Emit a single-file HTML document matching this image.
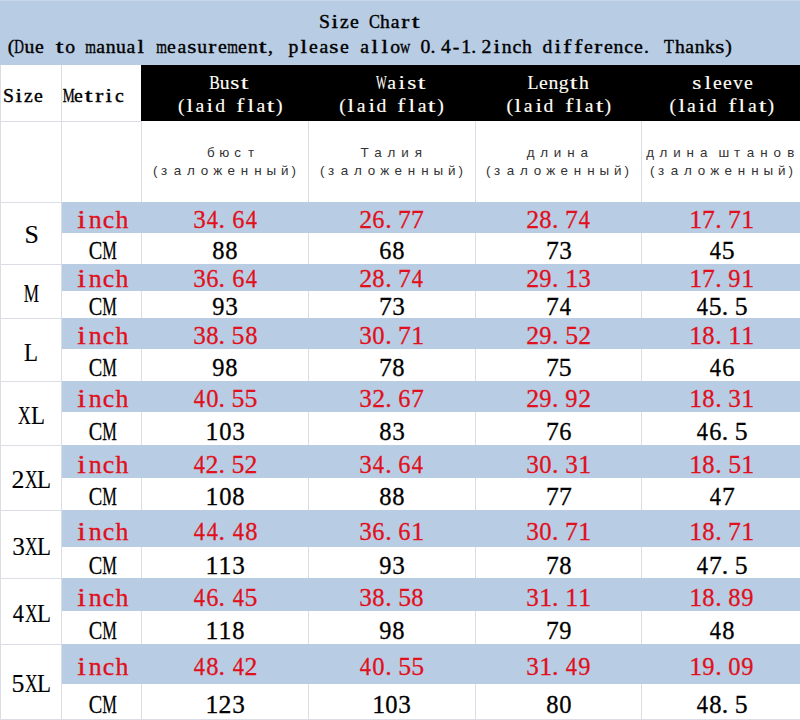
<!DOCTYPE html>
<html><head><meta charset="utf-8"><title>Size Chart</title>
<style>
html,body{margin:0;padding:0;background:#fff}
body{width:800px;height:720px;overflow:hidden;position:relative}
.r{position:absolute}
.t{position:absolute;white-space:nowrap;line-height:1}
.t i{display:inline-block;font-style:normal;text-align:center;line-height:1;vertical-align:baseline}
.t b{display:inline-block;font-weight:normal;text-align:center}
</style></head><body>
<div class="r" style="left:0px;top:0px;width:800px;height:65px;background:#b8cce4"></div>
<div class="r" style="left:0px;top:0px;width:800px;height:1px;background:#c8d8ea"></div>
<div class="r" style="left:141px;top:65px;width:659px;height:56px;background:#000"></div>
<div class="r" style="left:0px;top:65px;width:1px;height:655px;background:#dadce6"></div>
<div class="r" style="left:61px;top:65px;width:1px;height:655px;background:#dadce6"></div>
<div class="r" style="left:0px;top:121px;width:141px;height:1px;background:#dadce6"></div>
<div class="r" style="left:141px;top:121px;width:1px;height:81px;background:#dadce6"></div>
<div class="r" style="left:308px;top:121px;width:1px;height:81px;background:#dadce6"></div>
<div class="r" style="left:475px;top:121px;width:1px;height:81px;background:#dadce6"></div>
<div class="r" style="left:641px;top:121px;width:1px;height:81px;background:#dadce6"></div>
<div class="r" style="left:0px;top:202px;width:800px;height:1px;background:#dadce6"></div>
<div class="r" style="left:141px;top:233px;width:1px;height:31px;background:#dadce6"></div>
<div class="r" style="left:308px;top:233px;width:1px;height:31px;background:#dadce6"></div>
<div class="r" style="left:475px;top:233px;width:1px;height:31px;background:#dadce6"></div>
<div class="r" style="left:641px;top:233px;width:1px;height:31px;background:#dadce6"></div>
<div class="r" style="left:0px;top:264px;width:62px;height:1px;background:#dadce6"></div>
<div class="r" style="left:141px;top:291px;width:1px;height:27px;background:#dadce6"></div>
<div class="r" style="left:308px;top:291px;width:1px;height:27px;background:#dadce6"></div>
<div class="r" style="left:475px;top:291px;width:1px;height:27px;background:#dadce6"></div>
<div class="r" style="left:641px;top:291px;width:1px;height:27px;background:#dadce6"></div>
<div class="r" style="left:0px;top:318px;width:62px;height:1px;background:#dadce6"></div>
<div class="r" style="left:141px;top:349px;width:1px;height:32px;background:#dadce6"></div>
<div class="r" style="left:308px;top:349px;width:1px;height:32px;background:#dadce6"></div>
<div class="r" style="left:475px;top:349px;width:1px;height:32px;background:#dadce6"></div>
<div class="r" style="left:641px;top:349px;width:1px;height:32px;background:#dadce6"></div>
<div class="r" style="left:0px;top:381px;width:62px;height:1px;background:#dadce6"></div>
<div class="r" style="left:141px;top:412px;width:1px;height:33px;background:#dadce6"></div>
<div class="r" style="left:308px;top:412px;width:1px;height:33px;background:#dadce6"></div>
<div class="r" style="left:475px;top:412px;width:1px;height:33px;background:#dadce6"></div>
<div class="r" style="left:641px;top:412px;width:1px;height:33px;background:#dadce6"></div>
<div class="r" style="left:0px;top:445px;width:62px;height:1px;background:#dadce6"></div>
<div class="r" style="left:141px;top:478px;width:1px;height:32px;background:#dadce6"></div>
<div class="r" style="left:308px;top:478px;width:1px;height:32px;background:#dadce6"></div>
<div class="r" style="left:475px;top:478px;width:1px;height:32px;background:#dadce6"></div>
<div class="r" style="left:641px;top:478px;width:1px;height:32px;background:#dadce6"></div>
<div class="r" style="left:0px;top:510px;width:62px;height:1px;background:#dadce6"></div>
<div class="r" style="left:141px;top:547px;width:1px;height:31px;background:#dadce6"></div>
<div class="r" style="left:308px;top:547px;width:1px;height:31px;background:#dadce6"></div>
<div class="r" style="left:475px;top:547px;width:1px;height:31px;background:#dadce6"></div>
<div class="r" style="left:641px;top:547px;width:1px;height:31px;background:#dadce6"></div>
<div class="r" style="left:0px;top:578px;width:62px;height:1px;background:#dadce6"></div>
<div class="r" style="left:141px;top:611px;width:1px;height:33px;background:#dadce6"></div>
<div class="r" style="left:308px;top:611px;width:1px;height:33px;background:#dadce6"></div>
<div class="r" style="left:475px;top:611px;width:1px;height:33px;background:#dadce6"></div>
<div class="r" style="left:641px;top:611px;width:1px;height:33px;background:#dadce6"></div>
<div class="r" style="left:0px;top:644px;width:62px;height:1px;background:#dadce6"></div>
<div class="r" style="left:141px;top:684px;width:1px;height:35px;background:#dadce6"></div>
<div class="r" style="left:308px;top:684px;width:1px;height:35px;background:#dadce6"></div>
<div class="r" style="left:475px;top:684px;width:1px;height:35px;background:#dadce6"></div>
<div class="r" style="left:641px;top:684px;width:1px;height:35px;background:#dadce6"></div>
<div class="r" style="left:0px;top:719px;width:800px;height:1px;background:#dadce6"></div>
<div class="r" style="left:62px;top:202px;width:738px;height:31px;background:#b8cce4"></div>
<div class="r" style="left:62px;top:264px;width:738px;height:27px;background:#b8cce4"></div>
<div class="r" style="left:62px;top:318px;width:738px;height:31px;background:#b8cce4"></div>
<div class="r" style="left:62px;top:381px;width:738px;height:31px;background:#b8cce4"></div>
<div class="r" style="left:62px;top:445px;width:738px;height:33px;background:#b8cce4"></div>
<div class="r" style="left:62px;top:510px;width:738px;height:37px;background:#b8cce4"></div>
<div class="r" style="left:62px;top:578px;width:738px;height:33px;background:#b8cce4"></div>
<div class="r" style="left:62px;top:644px;width:738px;height:40px;background:#b8cce4"></div>
<div class="t" style="left:319.00px;top:11.65px;font-size:19.7px;font-family:'Liberation Serif',serif;color:#000;-webkit-text-stroke:0.4px #000;"><i style="width:10.16px;">S</i><i style="width:10.16px"><b style="width:5.47px;margin:0 2.34px;transform:scaleX(1.193)">i</b></i><i style="width:10.16px;">z</i><i style="width:10.16px"><b style="width:8.74px;margin:0 0.71px;transform:scaleX(1.003)">e</b></i><i style="width:10.16px;">&nbsp;</i><i style="width:10.16px"><b style="width:13.14px;margin:0 -1.49px;transform:scaleX(0.831)">C</b></i><i style="width:10.16px"><b style="width:9.85px;margin:0 0.16px;transform:scaleX(0.995)">h</b></i><i style="width:10.16px;">a</i><i style="width:10.16px"><b style="width:6.56px;margin:0 1.80px;transform:scaleX(1.221)">r</b></i><i style="width:10.16px"><b style="width:5.47px;margin:0 2.34px;transform:scaleX(1.416)">t</b></i></div>
<div class="t" style="left:4.04px;top:36.65px;font-size:19.7px;font-family:'Liberation Serif',serif;color:#000;-webkit-text-stroke:0.4px #000;"><i style="width:10.16px;text-align:right;">(</i><i style="width:10.16px"><b style="width:14.23px;margin:0 -2.03px;transform:scaleX(0.679)">D</b></i><i style="width:10.16px;">u</i><i style="width:10.16px"><b style="width:8.74px;margin:0 0.71px;transform:scaleX(1.003)">e</b></i><i style="width:10.16px;">&nbsp;</i><i style="width:10.16px"><b style="width:5.47px;margin:0 2.34px;transform:scaleX(1.416)">t</b></i><i style="width:10.16px;">o</i><i style="width:10.16px;">&nbsp;</i><i style="width:10.16px"><b style="width:15.32px;margin:0 -2.58px;transform:scaleX(0.696)">m</b></i><i style="width:10.16px;">a</i><i style="width:10.16px;">n</i><i style="width:10.16px;">u</i><i style="width:10.16px;">a</i><i style="width:10.16px"><b style="width:5.47px;margin:0 2.34px;transform:scaleX(1.193)">l</b></i><i style="width:10.16px;">&nbsp;</i><i style="width:10.16px"><b style="width:15.32px;margin:0 -2.58px;transform:scaleX(0.696)">m</b></i><i style="width:10.16px"><b style="width:8.74px;margin:0 0.71px;transform:scaleX(1.003)">e</b></i><i style="width:10.16px;">a</i><i style="width:10.16px"><b style="width:7.67px;margin:0 1.25px;transform:scaleX(1.190)">s</b></i><i style="width:10.16px;">u</i><i style="width:10.16px"><b style="width:6.56px;margin:0 1.80px;transform:scaleX(1.221)">r</b></i><i style="width:10.16px"><b style="width:8.74px;margin:0 0.71px;transform:scaleX(1.003)">e</b></i><i style="width:10.16px"><b style="width:15.32px;margin:0 -2.58px;transform:scaleX(0.696)">m</b></i><i style="width:10.16px"><b style="width:8.74px;margin:0 0.71px;transform:scaleX(1.003)">e</b></i><i style="width:10.16px;">n</i><i style="width:10.16px"><b style="width:5.47px;margin:0 2.34px;transform:scaleX(1.416)">t</b></i><i style="width:10.16px;text-align:left;">,</i><i style="width:10.16px;">&nbsp;</i><i style="width:10.16px;">p</i><i style="width:10.16px"><b style="width:5.47px;margin:0 2.34px;transform:scaleX(1.193)">l</b></i><i style="width:10.16px"><b style="width:8.74px;margin:0 0.71px;transform:scaleX(1.003)">e</b></i><i style="width:10.16px;">a</i><i style="width:10.16px"><b style="width:7.67px;margin:0 1.25px;transform:scaleX(1.190)">s</b></i><i style="width:10.16px"><b style="width:8.74px;margin:0 0.71px;transform:scaleX(1.003)">e</b></i><i style="width:10.16px;">&nbsp;</i><i style="width:10.16px;">a</i><i style="width:10.16px"><b style="width:5.47px;margin:0 2.34px;transform:scaleX(1.193)">l</b></i><i style="width:10.16px"><b style="width:5.47px;margin:0 2.34px;transform:scaleX(1.193)">l</b></i><i style="width:10.16px;">o</i><i style="width:10.16px"><b style="width:14.23px;margin:0 -2.03px;transform:scaleX(0.720)">w</b></i><i style="width:10.16px;">&nbsp;</i><i style="width:10.16px;">0</i><i style="width:10.16px;text-align:left;">.</i><i style="width:10.16px;">4</i><i style="width:10.16px;">-</i><i style="width:10.16px;">1</i><i style="width:10.16px;text-align:left;">.</i><i style="width:10.16px;">2</i><i style="width:10.16px"><b style="width:5.47px;margin:0 2.34px;transform:scaleX(1.193)">i</b></i><i style="width:10.16px;">n</i><i style="width:10.16px;">c</i><i style="width:10.16px"><b style="width:9.85px;margin:0 0.16px;transform:scaleX(0.995)">h</b></i><i style="width:10.16px;">&nbsp;</i><i style="width:10.16px;">d</i><i style="width:10.16px"><b style="width:5.47px;margin:0 2.34px;transform:scaleX(1.193)">i</b></i><i style="width:10.16px"><b style="width:6.56px;margin:0 1.80px;transform:scaleX(1.229)">f</b></i><i style="width:10.16px"><b style="width:6.56px;margin:0 1.80px;transform:scaleX(1.229)">f</b></i><i style="width:10.16px"><b style="width:8.74px;margin:0 0.71px;transform:scaleX(1.003)">e</b></i><i style="width:10.16px"><b style="width:6.56px;margin:0 1.80px;transform:scaleX(1.221)">r</b></i><i style="width:10.16px"><b style="width:8.74px;margin:0 0.71px;transform:scaleX(1.003)">e</b></i><i style="width:10.16px;">n</i><i style="width:10.16px;">c</i><i style="width:10.16px"><b style="width:8.74px;margin:0 0.71px;transform:scaleX(1.003)">e</b></i><i style="width:10.16px;text-align:left;">.</i><i style="width:10.16px;">&nbsp;</i><i style="width:10.16px"><b style="width:12.03px;margin:0 -0.94px;transform:scaleX(0.823)">T</b></i><i style="width:10.16px"><b style="width:9.85px;margin:0 0.16px;transform:scaleX(0.995)">h</b></i><i style="width:10.16px;">a</i><i style="width:10.16px;">n</i><i style="width:10.16px"><b style="width:9.85px;margin:0 0.16px;transform:scaleX(0.987)">k</b></i><i style="width:10.16px"><b style="width:7.67px;margin:0 1.25px;transform:scaleX(1.190)">s</b></i><i style="width:10.16px;text-align:left;">)</i></div>
<div class="t" style="left:3.00px;top:85.55px;font-size:19.7px;font-family:'Liberation Serif',serif;color:#000;-webkit-text-stroke:0.4px #000;"><i style="width:10.16px;">S</i><i style="width:10.16px"><b style="width:5.47px;margin:0 2.34px;transform:scaleX(1.193)">i</b></i><i style="width:10.16px;">z</i><i style="width:10.16px"><b style="width:8.74px;margin:0 0.71px;transform:scaleX(1.003)">e</b></i></div>
<div class="t" style="left:63.50px;top:85.55px;font-size:19.7px;font-family:'Liberation Serif',serif;color:#000;-webkit-text-stroke:0.4px #000;"><i style="width:10.16px"><b style="width:17.52px;margin:0 -3.68px;transform:scaleX(0.683)">M</b></i><i style="width:10.16px"><b style="width:8.74px;margin:0 0.71px;transform:scaleX(1.003)">e</b></i><i style="width:10.16px"><b style="width:5.47px;margin:0 2.34px;transform:scaleX(1.416)">t</b></i><i style="width:10.16px"><b style="width:6.56px;margin:0 1.80px;transform:scaleX(1.221)">r</b></i><i style="width:10.16px"><b style="width:5.47px;margin:0 2.34px;transform:scaleX(1.193)">i</b></i><i style="width:10.16px;">c</i></div>
<div class="t" style="left:209.48px;top:72.85px;font-size:19.7px;font-family:'Liberation Serif',serif;color:#fffdf5;-webkit-text-stroke:0.15px #fffdf5;"><i style="width:10.16px"><b style="width:13.14px;margin:0 -1.49px;transform:scaleX(0.805)">B</b></i><i style="width:10.16px;">u</i><i style="width:10.16px"><b style="width:7.67px;margin:0 1.25px;transform:scaleX(1.190)">s</b></i><i style="width:10.16px"><b style="width:5.47px;margin:0 2.34px;transform:scaleX(1.416)">t</b></i></div>
<div class="t" style="left:174.52px;top:95.65px;font-size:19.7px;font-family:'Liberation Serif',serif;color:#fffdf5;-webkit-text-stroke:0.15px #fffdf5;"><i style="width:10.16px;text-align:right;">(</i><i style="width:10.16px"><b style="width:5.47px;margin:0 2.34px;transform:scaleX(1.193)">l</b></i><i style="width:10.16px;">a</i><i style="width:10.16px"><b style="width:5.47px;margin:0 2.34px;transform:scaleX(1.193)">i</b></i><i style="width:10.16px;">d</i><i style="width:10.16px;">&nbsp;</i><i style="width:10.16px"><b style="width:6.56px;margin:0 1.80px;transform:scaleX(1.229)">f</b></i><i style="width:10.16px"><b style="width:5.47px;margin:0 2.34px;transform:scaleX(1.193)">l</b></i><i style="width:10.16px;">a</i><i style="width:10.16px"><b style="width:5.47px;margin:0 2.34px;transform:scaleX(1.416)">t</b></i><i style="width:10.16px;text-align:left;">)</i></div>
<div class="t" style="left:376.50px;top:72.85px;font-size:19.7px;font-family:'Liberation Serif',serif;color:#fffdf5;-webkit-text-stroke:0.15px #fffdf5;"><i style="width:10.16px"><b style="width:18.59px;margin:0 -4.22px;transform:scaleX(0.576)">W</b></i><i style="width:10.16px;">a</i><i style="width:10.16px"><b style="width:5.47px;margin:0 2.34px;transform:scaleX(1.193)">i</b></i><i style="width:10.16px"><b style="width:7.67px;margin:0 1.25px;transform:scaleX(1.190)">s</b></i><i style="width:10.16px"><b style="width:5.47px;margin:0 2.34px;transform:scaleX(1.416)">t</b></i></div>
<div class="t" style="left:335.72px;top:95.65px;font-size:19.7px;font-family:'Liberation Serif',serif;color:#fffdf5;-webkit-text-stroke:0.15px #fffdf5;"><i style="width:10.16px;text-align:right;">(</i><i style="width:10.16px"><b style="width:5.47px;margin:0 2.34px;transform:scaleX(1.193)">l</b></i><i style="width:10.16px;">a</i><i style="width:10.16px"><b style="width:5.47px;margin:0 2.34px;transform:scaleX(1.193)">i</b></i><i style="width:10.16px;">d</i><i style="width:10.16px;">&nbsp;</i><i style="width:10.16px"><b style="width:6.56px;margin:0 1.80px;transform:scaleX(1.229)">f</b></i><i style="width:10.16px"><b style="width:5.47px;margin:0 2.34px;transform:scaleX(1.193)">l</b></i><i style="width:10.16px;">a</i><i style="width:10.16px"><b style="width:5.47px;margin:0 2.34px;transform:scaleX(1.416)">t</b></i><i style="width:10.16px;text-align:left;">)</i></div>
<div class="t" style="left:528.02px;top:72.85px;font-size:19.7px;font-family:'Liberation Serif',serif;color:#fffdf5;-webkit-text-stroke:0.15px #fffdf5;"><i style="width:10.16px"><b style="width:12.03px;margin:0 -0.94px;transform:scaleX(0.909)">L</b></i><i style="width:10.16px"><b style="width:8.74px;margin:0 0.71px;transform:scaleX(1.003)">e</b></i><i style="width:10.16px;">n</i><i style="width:10.16px;">g</i><i style="width:10.16px"><b style="width:5.47px;margin:0 2.34px;transform:scaleX(1.416)">t</b></i><i style="width:10.16px"><b style="width:9.85px;margin:0 0.16px;transform:scaleX(0.995)">h</b></i></div>
<div class="t" style="left:502.82px;top:95.65px;font-size:19.7px;font-family:'Liberation Serif',serif;color:#fffdf5;-webkit-text-stroke:0.15px #fffdf5;"><i style="width:10.16px;text-align:right;">(</i><i style="width:10.16px"><b style="width:5.47px;margin:0 2.34px;transform:scaleX(1.193)">l</b></i><i style="width:10.16px;">a</i><i style="width:10.16px"><b style="width:5.47px;margin:0 2.34px;transform:scaleX(1.193)">i</b></i><i style="width:10.16px;">d</i><i style="width:10.16px;">&nbsp;</i><i style="width:10.16px"><b style="width:6.56px;margin:0 1.80px;transform:scaleX(1.229)">f</b></i><i style="width:10.16px"><b style="width:5.47px;margin:0 2.34px;transform:scaleX(1.193)">l</b></i><i style="width:10.16px;">a</i><i style="width:10.16px"><b style="width:5.47px;margin:0 2.34px;transform:scaleX(1.416)">t</b></i><i style="width:10.16px;text-align:left;">)</i></div>
<div class="t" style="left:692.02px;top:72.85px;font-size:19.7px;font-family:'Liberation Serif',serif;color:#fffdf5;-webkit-text-stroke:0.15px #fffdf5;"><i style="width:10.16px"><b style="width:7.67px;margin:0 1.25px;transform:scaleX(1.190)">s</b></i><i style="width:10.16px"><b style="width:5.47px;margin:0 2.34px;transform:scaleX(1.193)">l</b></i><i style="width:10.16px"><b style="width:8.74px;margin:0 0.71px;transform:scaleX(1.003)">e</b></i><i style="width:10.16px"><b style="width:8.74px;margin:0 0.71px;transform:scaleX(1.003)">e</b></i><i style="width:10.16px"><b style="width:9.85px;margin:0 0.16px;transform:scaleX(0.949)">v</b></i><i style="width:10.16px"><b style="width:8.74px;margin:0 0.71px;transform:scaleX(1.003)">e</b></i></div>
<div class="t" style="left:666.02px;top:95.65px;font-size:19.7px;font-family:'Liberation Serif',serif;color:#fffdf5;-webkit-text-stroke:0.15px #fffdf5;"><i style="width:10.16px;text-align:right;">(</i><i style="width:10.16px"><b style="width:5.47px;margin:0 2.34px;transform:scaleX(1.193)">l</b></i><i style="width:10.16px;">a</i><i style="width:10.16px"><b style="width:5.47px;margin:0 2.34px;transform:scaleX(1.193)">i</b></i><i style="width:10.16px;">d</i><i style="width:10.16px;">&nbsp;</i><i style="width:10.16px"><b style="width:6.56px;margin:0 1.80px;transform:scaleX(1.229)">f</b></i><i style="width:10.16px"><b style="width:5.47px;margin:0 2.34px;transform:scaleX(1.193)">l</b></i><i style="width:10.16px;">a</i><i style="width:10.16px"><b style="width:5.47px;margin:0 2.34px;transform:scaleX(1.416)">t</b></i><i style="width:10.16px;text-align:left;">)</i></div>
<div class="t" style="left:204.20px;top:145.81px;font-size:13.4px;font-family:'Liberation Sans',sans-serif;color:#333;-webkit-text-stroke:0px #333;"><i style="width:13.4px;">б</i><i style="width:13.4px;">ю</i><i style="width:13.4px;">с</i><i style="width:13.4px;">т</i></div>
<div class="t" style="left:150.80px;top:163.91px;font-size:13.4px;font-family:'Liberation Sans',sans-serif;color:#333;-webkit-text-stroke:0px #333;"><i style="width:6.7px;text-align:right;">(</i><i style="width:13.4px;">з</i><i style="width:13.4px;">а</i><i style="width:13.4px;">л</i><i style="width:13.4px;">о</i><i style="width:13.4px;">ж</i><i style="width:13.4px;">е</i><i style="width:13.4px;">н</i><i style="width:13.4px;">н</i><i style="width:13.4px;">ы</i><i style="width:13.4px;">й</i><i style="width:6.7px;text-align:left;">)</i></div>
<div class="t" style="left:358.00px;top:145.81px;font-size:13.4px;font-family:'Liberation Sans',sans-serif;color:#333;-webkit-text-stroke:0px #333;"><i style="width:13.4px;">Т</i><i style="width:13.4px;">а</i><i style="width:13.4px;">л</i><i style="width:13.4px;">и</i><i style="width:13.4px;">я</i></div>
<div class="t" style="left:317.80px;top:163.91px;font-size:13.4px;font-family:'Liberation Sans',sans-serif;color:#333;-webkit-text-stroke:0px #333;"><i style="width:6.7px;text-align:right;">(</i><i style="width:13.4px;">з</i><i style="width:13.4px;">а</i><i style="width:13.4px;">л</i><i style="width:13.4px;">о</i><i style="width:13.4px;">ж</i><i style="width:13.4px;">е</i><i style="width:13.4px;">н</i><i style="width:13.4px;">н</i><i style="width:13.4px;">ы</i><i style="width:13.4px;">й</i><i style="width:6.7px;text-align:left;">)</i></div>
<div class="t" style="left:524.00px;top:145.81px;font-size:13.4px;font-family:'Liberation Sans',sans-serif;color:#333;-webkit-text-stroke:0px #333;"><i style="width:13.4px;">д</i><i style="width:13.4px;">л</i><i style="width:13.4px;">и</i><i style="width:13.4px;">н</i><i style="width:13.4px;">а</i></div>
<div class="t" style="left:483.80px;top:163.91px;font-size:13.4px;font-family:'Liberation Sans',sans-serif;color:#333;-webkit-text-stroke:0px #333;"><i style="width:6.7px;text-align:right;">(</i><i style="width:13.4px;">з</i><i style="width:13.4px;">а</i><i style="width:13.4px;">л</i><i style="width:13.4px;">о</i><i style="width:13.4px;">ж</i><i style="width:13.4px;">е</i><i style="width:13.4px;">н</i><i style="width:13.4px;">н</i><i style="width:13.4px;">ы</i><i style="width:13.4px;">й</i><i style="width:6.7px;text-align:left;">)</i></div>
<div class="t" style="left:643.45px;top:145.81px;font-size:13.4px;font-family:'Liberation Sans',sans-serif;color:#333;-webkit-text-stroke:0px #333;"><i style="width:13.4px;">д</i><i style="width:13.4px;">л</i><i style="width:13.4px;">и</i><i style="width:13.4px;">н</i><i style="width:13.4px;">а</i><i style="width:6.7px;">&nbsp;</i><i style="width:13.4px;">ш</i><i style="width:13.4px;">т</i><i style="width:13.4px;">а</i><i style="width:13.4px;">н</i><i style="width:13.4px;">о</i><i style="width:13.4px;">в</i></div>
<div class="t" style="left:647.80px;top:163.91px;font-size:13.4px;font-family:'Liberation Sans',sans-serif;color:#333;-webkit-text-stroke:0px #333;"><i style="width:6.7px;text-align:right;">(</i><i style="width:13.4px;">з</i><i style="width:13.4px;">а</i><i style="width:13.4px;">л</i><i style="width:13.4px;">о</i><i style="width:13.4px;">ж</i><i style="width:13.4px;">е</i><i style="width:13.4px;">н</i><i style="width:13.4px;">н</i><i style="width:13.4px;">ы</i><i style="width:13.4px;">й</i><i style="width:6.7px;text-align:left;">)</i></div>
<div class="t" style="left:24.50px;top:222.39px;font-size:25.8px;font-family:'Liberation Serif',serif;color:#000;-webkit-text-stroke:0.15px #000;"><i style="width:13px;">S</i></div>
<div class="t" style="left:75.00px;top:207.39px;font-size:25.8px;font-family:'Liberation Serif',serif;color:#e0101c;-webkit-text-stroke:0.35px #e0101c;"><i style="width:13.4px"><b style="width:7.17px;margin:0 3.12px;transform:scaleX(1.201)">i</b></i><i style="width:13.4px;">n</i><i style="width:13.4px;">c</i><i style="width:13.4px;">h</i></div>
<div class="t" style="left:88.60px;top:237.79px;font-size:25.8px;font-family:'Liberation Serif',serif;color:#000;-webkit-text-stroke:0.3px #000;"><i style="width:13.6px"><b style="width:17.21px;margin:0 -1.80px;transform:scaleX(0.785)">C</b></i><i style="width:13.6px"><b style="width:22.94px;margin:0 -4.67px;transform:scaleX(0.634)">M</b></i></div>
<div class="t" style="left:192.50px;top:207.39px;font-size:25.8px;font-family:'Liberation Serif',serif;color:#e0101c;-webkit-text-stroke:0.3px #e0101c;"><i style="width:13px"><b style="width:12.90px;margin:0 0.05px;transform:scaleX(0.976)">3</b></i><i style="width:13px"><b style="width:12.90px;margin:0 0.05px;transform:scaleX(0.867)">4</b></i><i style="width:13px;text-align:left;">.</i><i style="width:13px"><b style="width:12.90px;margin:0 0.05px;transform:scaleX(0.943)">6</b></i><i style="width:13px"><b style="width:12.90px;margin:0 0.05px;transform:scaleX(0.867)">4</b></i></div>
<div class="t" style="left:212.00px;top:237.79px;font-size:25.8px;font-family:'Liberation Serif',serif;color:#000;-webkit-text-stroke:0.3px #000;"><i style="width:13px"><b style="width:12.90px;margin:0 0.05px;transform:scaleX(0.951)">8</b></i><i style="width:13px"><b style="width:12.90px;margin:0 0.05px;transform:scaleX(0.951)">8</b></i></div>
<div class="t" style="left:359.20px;top:207.39px;font-size:25.8px;font-family:'Liberation Serif',serif;color:#e0101c;-webkit-text-stroke:0.3px #e0101c;"><i style="width:13px;">2</i><i style="width:13px"><b style="width:12.90px;margin:0 0.05px;transform:scaleX(0.943)">6</b></i><i style="width:13px;text-align:left;">.</i><i style="width:13px"><b style="width:12.90px;margin:0 0.05px;transform:scaleX(0.995)">7</b></i><i style="width:13px"><b style="width:12.90px;margin:0 0.05px;transform:scaleX(0.995)">7</b></i></div>
<div class="t" style="left:378.70px;top:237.79px;font-size:25.8px;font-family:'Liberation Serif',serif;color:#000;-webkit-text-stroke:0.3px #000;"><i style="width:13px"><b style="width:12.90px;margin:0 0.05px;transform:scaleX(0.943)">6</b></i><i style="width:13px"><b style="width:12.90px;margin:0 0.05px;transform:scaleX(0.951)">8</b></i></div>
<div class="t" style="left:526.10px;top:207.39px;font-size:25.8px;font-family:'Liberation Serif',serif;color:#e0101c;-webkit-text-stroke:0.3px #e0101c;"><i style="width:13px;">2</i><i style="width:13px"><b style="width:12.90px;margin:0 0.05px;transform:scaleX(0.951)">8</b></i><i style="width:13px;text-align:left;">.</i><i style="width:13px"><b style="width:12.90px;margin:0 0.05px;transform:scaleX(0.995)">7</b></i><i style="width:13px"><b style="width:12.90px;margin:0 0.05px;transform:scaleX(0.867)">4</b></i></div>
<div class="t" style="left:545.60px;top:237.79px;font-size:25.8px;font-family:'Liberation Serif',serif;color:#000;-webkit-text-stroke:0.3px #000;"><i style="width:13px"><b style="width:12.90px;margin:0 0.05px;transform:scaleX(0.995)">7</b></i><i style="width:13px"><b style="width:12.90px;margin:0 0.05px;transform:scaleX(0.976)">3</b></i></div>
<div class="t" style="left:689.20px;top:207.39px;font-size:25.8px;font-family:'Liberation Serif',serif;color:#e0101c;-webkit-text-stroke:0.3px #e0101c;"><i style="width:13px;">1</i><i style="width:13px"><b style="width:12.90px;margin:0 0.05px;transform:scaleX(0.995)">7</b></i><i style="width:13px;text-align:left;">.</i><i style="width:13px"><b style="width:12.90px;margin:0 0.05px;transform:scaleX(0.995)">7</b></i><i style="width:13px;">1</i></div>
<div class="t" style="left:708.70px;top:237.79px;font-size:25.8px;font-family:'Liberation Serif',serif;color:#000;-webkit-text-stroke:0.3px #000;"><i style="width:13px"><b style="width:12.90px;margin:0 0.05px;transform:scaleX(0.867)">4</b></i><i style="width:13px;">5</i></div>
<div class="t" style="left:24.50px;top:280.59px;font-size:25.8px;font-family:'Liberation Serif',serif;color:#000;-webkit-text-stroke:0.15px #000;"><i style="width:13px"><b style="width:22.94px;margin:0 -4.97px;transform:scaleX(0.667)">M</b></i></div>
<div class="t" style="left:75.00px;top:266.49px;font-size:25.8px;font-family:'Liberation Serif',serif;color:#e0101c;-webkit-text-stroke:0.35px #e0101c;"><i style="width:13.4px"><b style="width:7.17px;margin:0 3.12px;transform:scaleX(1.201)">i</b></i><i style="width:13.4px;">n</i><i style="width:13.4px;">c</i><i style="width:13.4px;">h</i></div>
<div class="t" style="left:88.60px;top:293.59px;font-size:25.8px;font-family:'Liberation Serif',serif;color:#000;-webkit-text-stroke:0.3px #000;"><i style="width:13.6px"><b style="width:17.21px;margin:0 -1.80px;transform:scaleX(0.785)">C</b></i><i style="width:13.6px"><b style="width:22.94px;margin:0 -4.67px;transform:scaleX(0.634)">M</b></i></div>
<div class="t" style="left:192.50px;top:266.49px;font-size:25.8px;font-family:'Liberation Serif',serif;color:#e0101c;-webkit-text-stroke:0.3px #e0101c;"><i style="width:13px"><b style="width:12.90px;margin:0 0.05px;transform:scaleX(0.976)">3</b></i><i style="width:13px"><b style="width:12.90px;margin:0 0.05px;transform:scaleX(0.943)">6</b></i><i style="width:13px;text-align:left;">.</i><i style="width:13px"><b style="width:12.90px;margin:0 0.05px;transform:scaleX(0.943)">6</b></i><i style="width:13px"><b style="width:12.90px;margin:0 0.05px;transform:scaleX(0.867)">4</b></i></div>
<div class="t" style="left:212.00px;top:293.59px;font-size:25.8px;font-family:'Liberation Serif',serif;color:#000;-webkit-text-stroke:0.3px #000;"><i style="width:13px"><b style="width:12.90px;margin:0 0.05px;transform:scaleX(0.945)">9</b></i><i style="width:13px"><b style="width:12.90px;margin:0 0.05px;transform:scaleX(0.976)">3</b></i></div>
<div class="t" style="left:359.20px;top:266.49px;font-size:25.8px;font-family:'Liberation Serif',serif;color:#e0101c;-webkit-text-stroke:0.3px #e0101c;"><i style="width:13px;">2</i><i style="width:13px"><b style="width:12.90px;margin:0 0.05px;transform:scaleX(0.951)">8</b></i><i style="width:13px;text-align:left;">.</i><i style="width:13px"><b style="width:12.90px;margin:0 0.05px;transform:scaleX(0.995)">7</b></i><i style="width:13px"><b style="width:12.90px;margin:0 0.05px;transform:scaleX(0.867)">4</b></i></div>
<div class="t" style="left:378.70px;top:293.59px;font-size:25.8px;font-family:'Liberation Serif',serif;color:#000;-webkit-text-stroke:0.3px #000;"><i style="width:13px"><b style="width:12.90px;margin:0 0.05px;transform:scaleX(0.995)">7</b></i><i style="width:13px"><b style="width:12.90px;margin:0 0.05px;transform:scaleX(0.976)">3</b></i></div>
<div class="t" style="left:526.10px;top:266.49px;font-size:25.8px;font-family:'Liberation Serif',serif;color:#e0101c;-webkit-text-stroke:0.3px #e0101c;"><i style="width:13px;">2</i><i style="width:13px"><b style="width:12.90px;margin:0 0.05px;transform:scaleX(0.945)">9</b></i><i style="width:13px;text-align:left;">.</i><i style="width:13px;">1</i><i style="width:13px"><b style="width:12.90px;margin:0 0.05px;transform:scaleX(0.976)">3</b></i></div>
<div class="t" style="left:545.60px;top:293.59px;font-size:25.8px;font-family:'Liberation Serif',serif;color:#000;-webkit-text-stroke:0.3px #000;"><i style="width:13px"><b style="width:12.90px;margin:0 0.05px;transform:scaleX(0.995)">7</b></i><i style="width:13px"><b style="width:12.90px;margin:0 0.05px;transform:scaleX(0.867)">4</b></i></div>
<div class="t" style="left:689.20px;top:266.49px;font-size:25.8px;font-family:'Liberation Serif',serif;color:#e0101c;-webkit-text-stroke:0.3px #e0101c;"><i style="width:13px;">1</i><i style="width:13px"><b style="width:12.90px;margin:0 0.05px;transform:scaleX(0.995)">7</b></i><i style="width:13px;text-align:left;">.</i><i style="width:13px"><b style="width:12.90px;margin:0 0.05px;transform:scaleX(0.945)">9</b></i><i style="width:13px;">1</i></div>
<div class="t" style="left:695.70px;top:293.59px;font-size:25.8px;font-family:'Liberation Serif',serif;color:#000;-webkit-text-stroke:0.3px #000;"><i style="width:13px"><b style="width:12.90px;margin:0 0.05px;transform:scaleX(0.867)">4</b></i><i style="width:13px;">5</i><i style="width:13px;text-align:left;">.</i><i style="width:13px;">5</i></div>
<div class="t" style="left:24.50px;top:339.89px;font-size:25.8px;font-family:'Liberation Serif',serif;color:#000;-webkit-text-stroke:0.15px #000;"><i style="width:13px"><b style="width:15.76px;margin:0 -1.38px;transform:scaleX(0.888)">L</b></i></div>
<div class="t" style="left:75.00px;top:323.19px;font-size:25.8px;font-family:'Liberation Serif',serif;color:#e0101c;-webkit-text-stroke:0.35px #e0101c;"><i style="width:13.4px"><b style="width:7.17px;margin:0 3.12px;transform:scaleX(1.201)">i</b></i><i style="width:13.4px;">n</i><i style="width:13.4px;">c</i><i style="width:13.4px;">h</i></div>
<div class="t" style="left:88.60px;top:355.09px;font-size:25.8px;font-family:'Liberation Serif',serif;color:#000;-webkit-text-stroke:0.3px #000;"><i style="width:13.6px"><b style="width:17.21px;margin:0 -1.80px;transform:scaleX(0.785)">C</b></i><i style="width:13.6px"><b style="width:22.94px;margin:0 -4.67px;transform:scaleX(0.634)">M</b></i></div>
<div class="t" style="left:192.50px;top:323.19px;font-size:25.8px;font-family:'Liberation Serif',serif;color:#e0101c;-webkit-text-stroke:0.3px #e0101c;"><i style="width:13px"><b style="width:12.90px;margin:0 0.05px;transform:scaleX(0.976)">3</b></i><i style="width:13px"><b style="width:12.90px;margin:0 0.05px;transform:scaleX(0.951)">8</b></i><i style="width:13px;text-align:left;">.</i><i style="width:13px;">5</i><i style="width:13px"><b style="width:12.90px;margin:0 0.05px;transform:scaleX(0.951)">8</b></i></div>
<div class="t" style="left:212.00px;top:355.09px;font-size:25.8px;font-family:'Liberation Serif',serif;color:#000;-webkit-text-stroke:0.3px #000;"><i style="width:13px"><b style="width:12.90px;margin:0 0.05px;transform:scaleX(0.945)">9</b></i><i style="width:13px"><b style="width:12.90px;margin:0 0.05px;transform:scaleX(0.951)">8</b></i></div>
<div class="t" style="left:359.20px;top:323.19px;font-size:25.8px;font-family:'Liberation Serif',serif;color:#e0101c;-webkit-text-stroke:0.3px #e0101c;"><i style="width:13px"><b style="width:12.90px;margin:0 0.05px;transform:scaleX(0.976)">3</b></i><i style="width:13px"><b style="width:12.90px;margin:0 0.05px;transform:scaleX(0.951)">0</b></i><i style="width:13px;text-align:left;">.</i><i style="width:13px"><b style="width:12.90px;margin:0 0.05px;transform:scaleX(0.995)">7</b></i><i style="width:13px;">1</i></div>
<div class="t" style="left:378.70px;top:355.09px;font-size:25.8px;font-family:'Liberation Serif',serif;color:#000;-webkit-text-stroke:0.3px #000;"><i style="width:13px"><b style="width:12.90px;margin:0 0.05px;transform:scaleX(0.995)">7</b></i><i style="width:13px"><b style="width:12.90px;margin:0 0.05px;transform:scaleX(0.951)">8</b></i></div>
<div class="t" style="left:526.10px;top:323.19px;font-size:25.8px;font-family:'Liberation Serif',serif;color:#e0101c;-webkit-text-stroke:0.3px #e0101c;"><i style="width:13px;">2</i><i style="width:13px"><b style="width:12.90px;margin:0 0.05px;transform:scaleX(0.945)">9</b></i><i style="width:13px;text-align:left;">.</i><i style="width:13px;">5</i><i style="width:13px;">2</i></div>
<div class="t" style="left:545.60px;top:355.09px;font-size:25.8px;font-family:'Liberation Serif',serif;color:#000;-webkit-text-stroke:0.3px #000;"><i style="width:13px"><b style="width:12.90px;margin:0 0.05px;transform:scaleX(0.995)">7</b></i><i style="width:13px;">5</i></div>
<div class="t" style="left:689.20px;top:323.19px;font-size:25.8px;font-family:'Liberation Serif',serif;color:#e0101c;-webkit-text-stroke:0.3px #e0101c;"><i style="width:13px;">1</i><i style="width:13px"><b style="width:12.90px;margin:0 0.05px;transform:scaleX(0.951)">8</b></i><i style="width:13px;text-align:left;">.</i><i style="width:13px;">1</i><i style="width:13px;">1</i></div>
<div class="t" style="left:708.70px;top:355.09px;font-size:25.8px;font-family:'Liberation Serif',serif;color:#000;-webkit-text-stroke:0.3px #000;"><i style="width:13px"><b style="width:12.90px;margin:0 0.05px;transform:scaleX(0.867)">4</b></i><i style="width:13px"><b style="width:12.90px;margin:0 0.05px;transform:scaleX(0.943)">6</b></i></div>
<div class="t" style="left:18.00px;top:403.09px;font-size:25.8px;font-family:'Liberation Serif',serif;color:#000;-webkit-text-stroke:0.15px #000;"><i style="width:13px"><b style="width:18.63px;margin:0 -2.82px;transform:scaleX(0.680)">X</b></i><i style="width:13px"><b style="width:15.76px;margin:0 -1.38px;transform:scaleX(0.888)">L</b></i></div>
<div class="t" style="left:75.00px;top:386.49px;font-size:25.8px;font-family:'Liberation Serif',serif;color:#e0101c;-webkit-text-stroke:0.35px #e0101c;"><i style="width:13.4px"><b style="width:7.17px;margin:0 3.12px;transform:scaleX(1.201)">i</b></i><i style="width:13.4px;">n</i><i style="width:13.4px;">c</i><i style="width:13.4px;">h</i></div>
<div class="t" style="left:88.60px;top:418.89px;font-size:25.8px;font-family:'Liberation Serif',serif;color:#000;-webkit-text-stroke:0.3px #000;"><i style="width:13.6px"><b style="width:17.21px;margin:0 -1.80px;transform:scaleX(0.785)">C</b></i><i style="width:13.6px"><b style="width:22.94px;margin:0 -4.67px;transform:scaleX(0.634)">M</b></i></div>
<div class="t" style="left:192.50px;top:386.49px;font-size:25.8px;font-family:'Liberation Serif',serif;color:#e0101c;-webkit-text-stroke:0.3px #e0101c;"><i style="width:13px"><b style="width:12.90px;margin:0 0.05px;transform:scaleX(0.867)">4</b></i><i style="width:13px"><b style="width:12.90px;margin:0 0.05px;transform:scaleX(0.951)">0</b></i><i style="width:13px;text-align:left;">.</i><i style="width:13px;">5</i><i style="width:13px;">5</i></div>
<div class="t" style="left:205.50px;top:418.89px;font-size:25.8px;font-family:'Liberation Serif',serif;color:#000;-webkit-text-stroke:0.3px #000;"><i style="width:13px;">1</i><i style="width:13px"><b style="width:12.90px;margin:0 0.05px;transform:scaleX(0.951)">0</b></i><i style="width:13px"><b style="width:12.90px;margin:0 0.05px;transform:scaleX(0.976)">3</b></i></div>
<div class="t" style="left:359.20px;top:386.49px;font-size:25.8px;font-family:'Liberation Serif',serif;color:#e0101c;-webkit-text-stroke:0.3px #e0101c;"><i style="width:13px"><b style="width:12.90px;margin:0 0.05px;transform:scaleX(0.976)">3</b></i><i style="width:13px;">2</i><i style="width:13px;text-align:left;">.</i><i style="width:13px"><b style="width:12.90px;margin:0 0.05px;transform:scaleX(0.943)">6</b></i><i style="width:13px"><b style="width:12.90px;margin:0 0.05px;transform:scaleX(0.995)">7</b></i></div>
<div class="t" style="left:378.70px;top:418.89px;font-size:25.8px;font-family:'Liberation Serif',serif;color:#000;-webkit-text-stroke:0.3px #000;"><i style="width:13px"><b style="width:12.90px;margin:0 0.05px;transform:scaleX(0.951)">8</b></i><i style="width:13px"><b style="width:12.90px;margin:0 0.05px;transform:scaleX(0.976)">3</b></i></div>
<div class="t" style="left:526.10px;top:386.49px;font-size:25.8px;font-family:'Liberation Serif',serif;color:#e0101c;-webkit-text-stroke:0.3px #e0101c;"><i style="width:13px;">2</i><i style="width:13px"><b style="width:12.90px;margin:0 0.05px;transform:scaleX(0.945)">9</b></i><i style="width:13px;text-align:left;">.</i><i style="width:13px"><b style="width:12.90px;margin:0 0.05px;transform:scaleX(0.945)">9</b></i><i style="width:13px;">2</i></div>
<div class="t" style="left:545.60px;top:418.89px;font-size:25.8px;font-family:'Liberation Serif',serif;color:#000;-webkit-text-stroke:0.3px #000;"><i style="width:13px"><b style="width:12.90px;margin:0 0.05px;transform:scaleX(0.995)">7</b></i><i style="width:13px"><b style="width:12.90px;margin:0 0.05px;transform:scaleX(0.943)">6</b></i></div>
<div class="t" style="left:689.20px;top:386.49px;font-size:25.8px;font-family:'Liberation Serif',serif;color:#e0101c;-webkit-text-stroke:0.3px #e0101c;"><i style="width:13px;">1</i><i style="width:13px"><b style="width:12.90px;margin:0 0.05px;transform:scaleX(0.951)">8</b></i><i style="width:13px;text-align:left;">.</i><i style="width:13px"><b style="width:12.90px;margin:0 0.05px;transform:scaleX(0.976)">3</b></i><i style="width:13px;">1</i></div>
<div class="t" style="left:695.70px;top:418.89px;font-size:25.8px;font-family:'Liberation Serif',serif;color:#000;-webkit-text-stroke:0.3px #000;"><i style="width:13px"><b style="width:12.90px;margin:0 0.05px;transform:scaleX(0.867)">4</b></i><i style="width:13px"><b style="width:12.90px;margin:0 0.05px;transform:scaleX(0.943)">6</b></i><i style="width:13px;text-align:left;">.</i><i style="width:13px;">5</i></div>
<div class="t" style="left:11.50px;top:467.34px;font-size:25.8px;font-family:'Liberation Serif',serif;color:#000;-webkit-text-stroke:0.15px #000;"><i style="width:13px;">2</i><i style="width:13px"><b style="width:18.63px;margin:0 -2.82px;transform:scaleX(0.680)">X</b></i><i style="width:13px"><b style="width:15.76px;margin:0 -1.38px;transform:scaleX(0.888)">L</b></i></div>
<div class="t" style="left:75.00px;top:452.09px;font-size:25.8px;font-family:'Liberation Serif',serif;color:#e0101c;-webkit-text-stroke:0.35px #e0101c;"><i style="width:13.4px"><b style="width:7.17px;margin:0 3.12px;transform:scaleX(1.201)">i</b></i><i style="width:13.4px;">n</i><i style="width:13.4px;">c</i><i style="width:13.4px;">h</i></div>
<div class="t" style="left:88.60px;top:483.79px;font-size:25.8px;font-family:'Liberation Serif',serif;color:#000;-webkit-text-stroke:0.3px #000;"><i style="width:13.6px"><b style="width:17.21px;margin:0 -1.80px;transform:scaleX(0.785)">C</b></i><i style="width:13.6px"><b style="width:22.94px;margin:0 -4.67px;transform:scaleX(0.634)">M</b></i></div>
<div class="t" style="left:192.50px;top:452.09px;font-size:25.8px;font-family:'Liberation Serif',serif;color:#e0101c;-webkit-text-stroke:0.3px #e0101c;"><i style="width:13px"><b style="width:12.90px;margin:0 0.05px;transform:scaleX(0.867)">4</b></i><i style="width:13px;">2</i><i style="width:13px;text-align:left;">.</i><i style="width:13px;">5</i><i style="width:13px;">2</i></div>
<div class="t" style="left:205.50px;top:483.79px;font-size:25.8px;font-family:'Liberation Serif',serif;color:#000;-webkit-text-stroke:0.3px #000;"><i style="width:13px;">1</i><i style="width:13px"><b style="width:12.90px;margin:0 0.05px;transform:scaleX(0.951)">0</b></i><i style="width:13px"><b style="width:12.90px;margin:0 0.05px;transform:scaleX(0.951)">8</b></i></div>
<div class="t" style="left:359.20px;top:452.09px;font-size:25.8px;font-family:'Liberation Serif',serif;color:#e0101c;-webkit-text-stroke:0.3px #e0101c;"><i style="width:13px"><b style="width:12.90px;margin:0 0.05px;transform:scaleX(0.976)">3</b></i><i style="width:13px"><b style="width:12.90px;margin:0 0.05px;transform:scaleX(0.867)">4</b></i><i style="width:13px;text-align:left;">.</i><i style="width:13px"><b style="width:12.90px;margin:0 0.05px;transform:scaleX(0.943)">6</b></i><i style="width:13px"><b style="width:12.90px;margin:0 0.05px;transform:scaleX(0.867)">4</b></i></div>
<div class="t" style="left:378.70px;top:483.79px;font-size:25.8px;font-family:'Liberation Serif',serif;color:#000;-webkit-text-stroke:0.3px #000;"><i style="width:13px"><b style="width:12.90px;margin:0 0.05px;transform:scaleX(0.951)">8</b></i><i style="width:13px"><b style="width:12.90px;margin:0 0.05px;transform:scaleX(0.951)">8</b></i></div>
<div class="t" style="left:526.10px;top:452.09px;font-size:25.8px;font-family:'Liberation Serif',serif;color:#e0101c;-webkit-text-stroke:0.3px #e0101c;"><i style="width:13px"><b style="width:12.90px;margin:0 0.05px;transform:scaleX(0.976)">3</b></i><i style="width:13px"><b style="width:12.90px;margin:0 0.05px;transform:scaleX(0.951)">0</b></i><i style="width:13px;text-align:left;">.</i><i style="width:13px"><b style="width:12.90px;margin:0 0.05px;transform:scaleX(0.976)">3</b></i><i style="width:13px;">1</i></div>
<div class="t" style="left:545.60px;top:483.79px;font-size:25.8px;font-family:'Liberation Serif',serif;color:#000;-webkit-text-stroke:0.3px #000;"><i style="width:13px"><b style="width:12.90px;margin:0 0.05px;transform:scaleX(0.995)">7</b></i><i style="width:13px"><b style="width:12.90px;margin:0 0.05px;transform:scaleX(0.995)">7</b></i></div>
<div class="t" style="left:689.20px;top:452.09px;font-size:25.8px;font-family:'Liberation Serif',serif;color:#e0101c;-webkit-text-stroke:0.3px #e0101c;"><i style="width:13px;">1</i><i style="width:13px"><b style="width:12.90px;margin:0 0.05px;transform:scaleX(0.951)">8</b></i><i style="width:13px;text-align:left;">.</i><i style="width:13px;">5</i><i style="width:13px;">1</i></div>
<div class="t" style="left:708.70px;top:483.79px;font-size:25.8px;font-family:'Liberation Serif',serif;color:#000;-webkit-text-stroke:0.3px #000;"><i style="width:13px"><b style="width:12.90px;margin:0 0.05px;transform:scaleX(0.867)">4</b></i><i style="width:13px"><b style="width:12.90px;margin:0 0.05px;transform:scaleX(0.995)">7</b></i></div>
<div class="t" style="left:11.50px;top:533.59px;font-size:25.8px;font-family:'Liberation Serif',serif;color:#000;-webkit-text-stroke:0.15px #000;"><i style="width:13px"><b style="width:12.90px;margin:0 0.05px;transform:scaleX(0.976)">3</b></i><i style="width:13px"><b style="width:18.63px;margin:0 -2.82px;transform:scaleX(0.680)">X</b></i><i style="width:13px"><b style="width:15.76px;margin:0 -1.38px;transform:scaleX(0.888)">L</b></i></div>
<div class="t" style="left:75.00px;top:518.79px;font-size:25.8px;font-family:'Liberation Serif',serif;color:#e0101c;-webkit-text-stroke:0.35px #e0101c;"><i style="width:13.4px"><b style="width:7.17px;margin:0 3.12px;transform:scaleX(1.201)">i</b></i><i style="width:13.4px;">n</i><i style="width:13.4px;">c</i><i style="width:13.4px;">h</i></div>
<div class="t" style="left:88.60px;top:552.79px;font-size:25.8px;font-family:'Liberation Serif',serif;color:#000;-webkit-text-stroke:0.3px #000;"><i style="width:13.6px"><b style="width:17.21px;margin:0 -1.80px;transform:scaleX(0.785)">C</b></i><i style="width:13.6px"><b style="width:22.94px;margin:0 -4.67px;transform:scaleX(0.634)">M</b></i></div>
<div class="t" style="left:192.50px;top:518.79px;font-size:25.8px;font-family:'Liberation Serif',serif;color:#e0101c;-webkit-text-stroke:0.3px #e0101c;"><i style="width:13px"><b style="width:12.90px;margin:0 0.05px;transform:scaleX(0.867)">4</b></i><i style="width:13px"><b style="width:12.90px;margin:0 0.05px;transform:scaleX(0.867)">4</b></i><i style="width:13px;text-align:left;">.</i><i style="width:13px"><b style="width:12.90px;margin:0 0.05px;transform:scaleX(0.867)">4</b></i><i style="width:13px"><b style="width:12.90px;margin:0 0.05px;transform:scaleX(0.951)">8</b></i></div>
<div class="t" style="left:205.50px;top:552.79px;font-size:25.8px;font-family:'Liberation Serif',serif;color:#000;-webkit-text-stroke:0.3px #000;"><i style="width:13px;">1</i><i style="width:13px;">1</i><i style="width:13px"><b style="width:12.90px;margin:0 0.05px;transform:scaleX(0.976)">3</b></i></div>
<div class="t" style="left:359.20px;top:518.79px;font-size:25.8px;font-family:'Liberation Serif',serif;color:#e0101c;-webkit-text-stroke:0.3px #e0101c;"><i style="width:13px"><b style="width:12.90px;margin:0 0.05px;transform:scaleX(0.976)">3</b></i><i style="width:13px"><b style="width:12.90px;margin:0 0.05px;transform:scaleX(0.943)">6</b></i><i style="width:13px;text-align:left;">.</i><i style="width:13px"><b style="width:12.90px;margin:0 0.05px;transform:scaleX(0.943)">6</b></i><i style="width:13px;">1</i></div>
<div class="t" style="left:378.70px;top:552.79px;font-size:25.8px;font-family:'Liberation Serif',serif;color:#000;-webkit-text-stroke:0.3px #000;"><i style="width:13px"><b style="width:12.90px;margin:0 0.05px;transform:scaleX(0.945)">9</b></i><i style="width:13px"><b style="width:12.90px;margin:0 0.05px;transform:scaleX(0.976)">3</b></i></div>
<div class="t" style="left:526.10px;top:518.79px;font-size:25.8px;font-family:'Liberation Serif',serif;color:#e0101c;-webkit-text-stroke:0.3px #e0101c;"><i style="width:13px"><b style="width:12.90px;margin:0 0.05px;transform:scaleX(0.976)">3</b></i><i style="width:13px"><b style="width:12.90px;margin:0 0.05px;transform:scaleX(0.951)">0</b></i><i style="width:13px;text-align:left;">.</i><i style="width:13px"><b style="width:12.90px;margin:0 0.05px;transform:scaleX(0.995)">7</b></i><i style="width:13px;">1</i></div>
<div class="t" style="left:545.60px;top:552.79px;font-size:25.8px;font-family:'Liberation Serif',serif;color:#000;-webkit-text-stroke:0.3px #000;"><i style="width:13px"><b style="width:12.90px;margin:0 0.05px;transform:scaleX(0.995)">7</b></i><i style="width:13px"><b style="width:12.90px;margin:0 0.05px;transform:scaleX(0.951)">8</b></i></div>
<div class="t" style="left:689.20px;top:518.79px;font-size:25.8px;font-family:'Liberation Serif',serif;color:#e0101c;-webkit-text-stroke:0.3px #e0101c;"><i style="width:13px;">1</i><i style="width:13px"><b style="width:12.90px;margin:0 0.05px;transform:scaleX(0.951)">8</b></i><i style="width:13px;text-align:left;">.</i><i style="width:13px"><b style="width:12.90px;margin:0 0.05px;transform:scaleX(0.995)">7</b></i><i style="width:13px;">1</i></div>
<div class="t" style="left:695.70px;top:552.79px;font-size:25.8px;font-family:'Liberation Serif',serif;color:#000;-webkit-text-stroke:0.3px #000;"><i style="width:13px"><b style="width:12.90px;margin:0 0.05px;transform:scaleX(0.867)">4</b></i><i style="width:13px"><b style="width:12.90px;margin:0 0.05px;transform:scaleX(0.995)">7</b></i><i style="width:13px;text-align:left;">.</i><i style="width:13px;">5</i></div>
<div class="t" style="left:11.50px;top:600.59px;font-size:25.8px;font-family:'Liberation Serif',serif;color:#000;-webkit-text-stroke:0.15px #000;"><i style="width:13px"><b style="width:12.90px;margin:0 0.05px;transform:scaleX(0.867)">4</b></i><i style="width:13px"><b style="width:18.63px;margin:0 -2.82px;transform:scaleX(0.680)">X</b></i><i style="width:13px"><b style="width:15.76px;margin:0 -1.38px;transform:scaleX(0.888)">L</b></i></div>
<div class="t" style="left:75.00px;top:585.49px;font-size:25.8px;font-family:'Liberation Serif',serif;color:#e0101c;-webkit-text-stroke:0.35px #e0101c;"><i style="width:13.4px"><b style="width:7.17px;margin:0 3.12px;transform:scaleX(1.201)">i</b></i><i style="width:13.4px;">n</i><i style="width:13.4px;">c</i><i style="width:13.4px;">h</i></div>
<div class="t" style="left:88.60px;top:617.69px;font-size:25.8px;font-family:'Liberation Serif',serif;color:#000;-webkit-text-stroke:0.3px #000;"><i style="width:13.6px"><b style="width:17.21px;margin:0 -1.80px;transform:scaleX(0.785)">C</b></i><i style="width:13.6px"><b style="width:22.94px;margin:0 -4.67px;transform:scaleX(0.634)">M</b></i></div>
<div class="t" style="left:192.50px;top:585.49px;font-size:25.8px;font-family:'Liberation Serif',serif;color:#e0101c;-webkit-text-stroke:0.3px #e0101c;"><i style="width:13px"><b style="width:12.90px;margin:0 0.05px;transform:scaleX(0.867)">4</b></i><i style="width:13px"><b style="width:12.90px;margin:0 0.05px;transform:scaleX(0.943)">6</b></i><i style="width:13px;text-align:left;">.</i><i style="width:13px"><b style="width:12.90px;margin:0 0.05px;transform:scaleX(0.867)">4</b></i><i style="width:13px;">5</i></div>
<div class="t" style="left:205.50px;top:617.69px;font-size:25.8px;font-family:'Liberation Serif',serif;color:#000;-webkit-text-stroke:0.3px #000;"><i style="width:13px;">1</i><i style="width:13px;">1</i><i style="width:13px"><b style="width:12.90px;margin:0 0.05px;transform:scaleX(0.951)">8</b></i></div>
<div class="t" style="left:359.20px;top:585.49px;font-size:25.8px;font-family:'Liberation Serif',serif;color:#e0101c;-webkit-text-stroke:0.3px #e0101c;"><i style="width:13px"><b style="width:12.90px;margin:0 0.05px;transform:scaleX(0.976)">3</b></i><i style="width:13px"><b style="width:12.90px;margin:0 0.05px;transform:scaleX(0.951)">8</b></i><i style="width:13px;text-align:left;">.</i><i style="width:13px;">5</i><i style="width:13px"><b style="width:12.90px;margin:0 0.05px;transform:scaleX(0.951)">8</b></i></div>
<div class="t" style="left:378.70px;top:617.69px;font-size:25.8px;font-family:'Liberation Serif',serif;color:#000;-webkit-text-stroke:0.3px #000;"><i style="width:13px"><b style="width:12.90px;margin:0 0.05px;transform:scaleX(0.945)">9</b></i><i style="width:13px"><b style="width:12.90px;margin:0 0.05px;transform:scaleX(0.951)">8</b></i></div>
<div class="t" style="left:526.10px;top:585.49px;font-size:25.8px;font-family:'Liberation Serif',serif;color:#e0101c;-webkit-text-stroke:0.3px #e0101c;"><i style="width:13px"><b style="width:12.90px;margin:0 0.05px;transform:scaleX(0.976)">3</b></i><i style="width:13px;">1</i><i style="width:13px;text-align:left;">.</i><i style="width:13px;">1</i><i style="width:13px;">1</i></div>
<div class="t" style="left:545.60px;top:617.69px;font-size:25.8px;font-family:'Liberation Serif',serif;color:#000;-webkit-text-stroke:0.3px #000;"><i style="width:13px"><b style="width:12.90px;margin:0 0.05px;transform:scaleX(0.995)">7</b></i><i style="width:13px"><b style="width:12.90px;margin:0 0.05px;transform:scaleX(0.945)">9</b></i></div>
<div class="t" style="left:689.20px;top:585.49px;font-size:25.8px;font-family:'Liberation Serif',serif;color:#e0101c;-webkit-text-stroke:0.3px #e0101c;"><i style="width:13px;">1</i><i style="width:13px"><b style="width:12.90px;margin:0 0.05px;transform:scaleX(0.951)">8</b></i><i style="width:13px;text-align:left;">.</i><i style="width:13px"><b style="width:12.90px;margin:0 0.05px;transform:scaleX(0.951)">8</b></i><i style="width:13px"><b style="width:12.90px;margin:0 0.05px;transform:scaleX(0.945)">9</b></i></div>
<div class="t" style="left:708.70px;top:617.69px;font-size:25.8px;font-family:'Liberation Serif',serif;color:#000;-webkit-text-stroke:0.3px #000;"><i style="width:13px"><b style="width:12.90px;margin:0 0.05px;transform:scaleX(0.867)">4</b></i><i style="width:13px"><b style="width:12.90px;margin:0 0.05px;transform:scaleX(0.951)">8</b></i></div>
<div class="t" style="left:11.50px;top:671.09px;font-size:25.8px;font-family:'Liberation Serif',serif;color:#000;-webkit-text-stroke:0.15px #000;"><i style="width:13px;">5</i><i style="width:13px"><b style="width:18.63px;margin:0 -2.82px;transform:scaleX(0.680)">X</b></i><i style="width:13px"><b style="width:15.76px;margin:0 -1.38px;transform:scaleX(0.888)">L</b></i></div>
<div class="t" style="left:75.00px;top:654.39px;font-size:25.8px;font-family:'Liberation Serif',serif;color:#e0101c;-webkit-text-stroke:0.35px #e0101c;"><i style="width:13.4px"><b style="width:7.17px;margin:0 3.12px;transform:scaleX(1.201)">i</b></i><i style="width:13.4px;">n</i><i style="width:13.4px;">c</i><i style="width:13.4px;">h</i></div>
<div class="t" style="left:88.60px;top:691.69px;font-size:25.8px;font-family:'Liberation Serif',serif;color:#000;-webkit-text-stroke:0.3px #000;"><i style="width:13.6px"><b style="width:17.21px;margin:0 -1.80px;transform:scaleX(0.785)">C</b></i><i style="width:13.6px"><b style="width:22.94px;margin:0 -4.67px;transform:scaleX(0.634)">M</b></i></div>
<div class="t" style="left:192.50px;top:654.39px;font-size:25.8px;font-family:'Liberation Serif',serif;color:#e0101c;-webkit-text-stroke:0.3px #e0101c;"><i style="width:13px"><b style="width:12.90px;margin:0 0.05px;transform:scaleX(0.867)">4</b></i><i style="width:13px"><b style="width:12.90px;margin:0 0.05px;transform:scaleX(0.951)">8</b></i><i style="width:13px;text-align:left;">.</i><i style="width:13px"><b style="width:12.90px;margin:0 0.05px;transform:scaleX(0.867)">4</b></i><i style="width:13px;">2</i></div>
<div class="t" style="left:205.50px;top:691.69px;font-size:25.8px;font-family:'Liberation Serif',serif;color:#000;-webkit-text-stroke:0.3px #000;"><i style="width:13px;">1</i><i style="width:13px;">2</i><i style="width:13px"><b style="width:12.90px;margin:0 0.05px;transform:scaleX(0.976)">3</b></i></div>
<div class="t" style="left:359.20px;top:654.39px;font-size:25.8px;font-family:'Liberation Serif',serif;color:#e0101c;-webkit-text-stroke:0.3px #e0101c;"><i style="width:13px"><b style="width:12.90px;margin:0 0.05px;transform:scaleX(0.867)">4</b></i><i style="width:13px"><b style="width:12.90px;margin:0 0.05px;transform:scaleX(0.951)">0</b></i><i style="width:13px;text-align:left;">.</i><i style="width:13px;">5</i><i style="width:13px;">5</i></div>
<div class="t" style="left:372.20px;top:691.69px;font-size:25.8px;font-family:'Liberation Serif',serif;color:#000;-webkit-text-stroke:0.3px #000;"><i style="width:13px;">1</i><i style="width:13px"><b style="width:12.90px;margin:0 0.05px;transform:scaleX(0.951)">0</b></i><i style="width:13px"><b style="width:12.90px;margin:0 0.05px;transform:scaleX(0.976)">3</b></i></div>
<div class="t" style="left:526.10px;top:654.39px;font-size:25.8px;font-family:'Liberation Serif',serif;color:#e0101c;-webkit-text-stroke:0.3px #e0101c;"><i style="width:13px"><b style="width:12.90px;margin:0 0.05px;transform:scaleX(0.976)">3</b></i><i style="width:13px;">1</i><i style="width:13px;text-align:left;">.</i><i style="width:13px"><b style="width:12.90px;margin:0 0.05px;transform:scaleX(0.867)">4</b></i><i style="width:13px"><b style="width:12.90px;margin:0 0.05px;transform:scaleX(0.945)">9</b></i></div>
<div class="t" style="left:545.60px;top:691.69px;font-size:25.8px;font-family:'Liberation Serif',serif;color:#000;-webkit-text-stroke:0.3px #000;"><i style="width:13px"><b style="width:12.90px;margin:0 0.05px;transform:scaleX(0.951)">8</b></i><i style="width:13px"><b style="width:12.90px;margin:0 0.05px;transform:scaleX(0.951)">0</b></i></div>
<div class="t" style="left:689.20px;top:654.39px;font-size:25.8px;font-family:'Liberation Serif',serif;color:#e0101c;-webkit-text-stroke:0.3px #e0101c;"><i style="width:13px;">1</i><i style="width:13px"><b style="width:12.90px;margin:0 0.05px;transform:scaleX(0.945)">9</b></i><i style="width:13px;text-align:left;">.</i><i style="width:13px"><b style="width:12.90px;margin:0 0.05px;transform:scaleX(0.951)">0</b></i><i style="width:13px"><b style="width:12.90px;margin:0 0.05px;transform:scaleX(0.945)">9</b></i></div>
<div class="t" style="left:695.70px;top:691.69px;font-size:25.8px;font-family:'Liberation Serif',serif;color:#000;-webkit-text-stroke:0.3px #000;"><i style="width:13px"><b style="width:12.90px;margin:0 0.05px;transform:scaleX(0.867)">4</b></i><i style="width:13px"><b style="width:12.90px;margin:0 0.05px;transform:scaleX(0.951)">8</b></i><i style="width:13px;text-align:left;">.</i><i style="width:13px;">5</i></div>
</body></html>
